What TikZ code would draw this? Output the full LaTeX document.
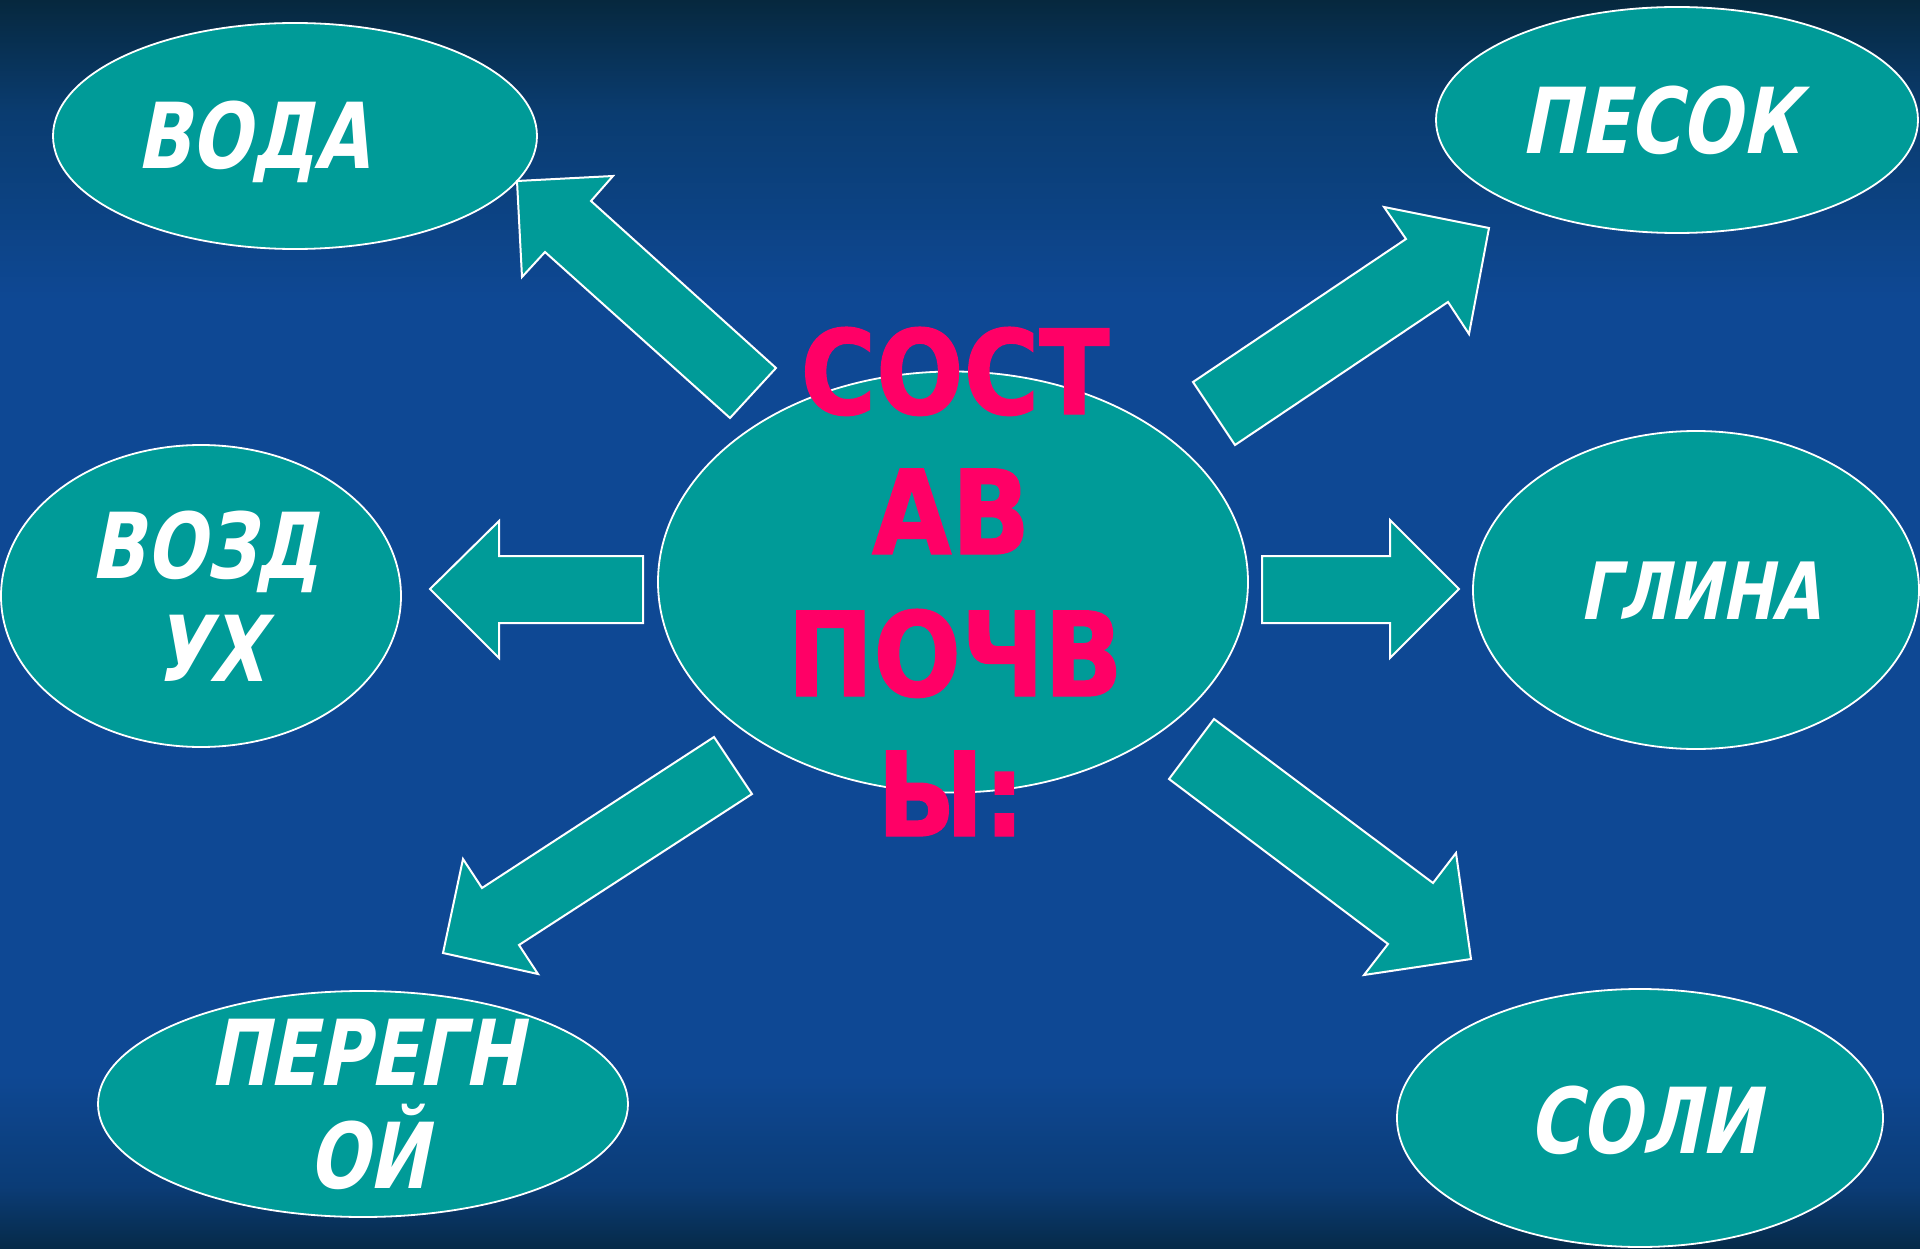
\documentclass[tikz,border=0pt]{standalone}
\usepackage{fontspec}
\usetikzlibrary{shapes.geometric}
\newfontfamily\labfont[FakeStretch=0.78,FakeSlant=0.2]{DejaVu Sans}
\newfontfamily\ctrfont[FakeStretch=0.88,FakeBold=1.2]{DejaVu Sans}
\definecolor{tealc}{RGB}{0,155,152}
\definecolor{pinkc}{RGB}{255,0,102}
\definecolor{bgtop}{RGB}{6,40,62}
\definecolor{bghigh}{RGB}{10,60,112}
\definecolor{bgmid}{RGB}{14,72,148}
\definecolor{bglow}{RGB}{11,60,118}
\definecolor{bgbot}{RGB}{6,42,72}
% visible part of a TikZ shading is 25bp..75bp
\pgfdeclareverticalshading{bgshade}{100bp}{color(0bp)=(bgbot); color(25bp)=(bgbot); color(27.5bp)=(bglow); color(32bp)=(bgmid); color(63bp)=(bgmid); color(70.5bp)=(bghigh); color(75bp)=(bgtop); color(100bp)=(bgtop)}
\begin{document}
\begin{tikzpicture}[x=1pt,y=-1pt,
  bub/.style={ellipse, draw=white, line width=1.8pt, fill=tealc, inner sep=0pt},
  barrow/.style={draw=white, line width=2pt, fill=tealc, line join=miter},
  lab/.style={text=white, font=\labfont\bfseries\fontsize{91}{100}\selectfont, anchor=base, inner sep=0pt},
  labs/.style={lab, font=\labfont\bfseries\fontsize{79}{90}\selectfont},
  ctr/.style={text=pinkc, font=\ctrfont\bfseries\fontsize{117}{130}\selectfont, anchor=base, inner sep=0pt}]
\useasboundingbox (0,0) rectangle (1920,1249);
\shade[shading=bgshade] (0,0) rectangle (1920,1249);

% ellipses
\node[bub, minimum width=484pt, minimum height=226pt] (voda) at (295,136) {};
\node[bub, minimum width=482pt, minimum height=226pt] (pesok) at (1677,120) {};
\node[bub, minimum width=400pt, minimum height=302pt] (vozduh) at (201,596) {};
\node[bub, minimum width=446pt, minimum height=318pt] (glina) at (1696,590) {};
\node[bub, minimum width=530pt, minimum height=226pt] (peregnoi) at (363,1104) {};
\node[bub, minimum width=486pt, minimum height=258pt] (soli) at (1640,1118) {};
\node[bub, minimum width=590pt, minimum height=421pt] (sostav) at (953,582) {};

% block arrows
\filldraw[barrow] (517,181) -- (613,176) -- (591,201) -- (776,368) -- (730,418) -- (545,252) -- (522,277) -- cycle;
\filldraw[barrow] (1193,382) -- (1406,239) -- (1384,207) -- (1489,228) -- (1469,334) -- (1448,302) -- (1235,445) -- cycle;
\filldraw[barrow] (430,589) -- (499,521) -- (499,556) -- (643,556) -- (643,623) -- (499,623) -- (499,658) -- cycle;
\filldraw[barrow] (1262,556) -- (1390,556) -- (1390,520) -- (1459,589) -- (1390,658) -- (1390,623) -- (1262,623) -- cycle;
\filldraw[barrow] (714,737) -- (752,794) -- (519,945) -- (538,974) -- (443,953) -- (463,859) -- (482,888) -- cycle;
\filldraw[barrow] (1214,719) -- (1169,779) -- (1388,944) -- (1364,975) -- (1471,959) -- (1456,853) -- (1433,883) -- cycle;

% labels
\node[lab] (tvoda) at (253,169) {ВОДА};
\node[lab] (tpesok) at (1660,154) {ПЕСОК};
\node[lab] (tvoz1) at (205,578) {ВОЗД};
\node[lab] (tvoz2) at (209,681) {УХ};
\node[labs] (tglina) at (1700,619) {ГЛИНА};
\node[lab] (tper1) at (366,1085) {ПЕРЕГН};
\node[lab] (tper2) at (368,1188) {ОЙ};
\node[lab] (tsoli) at (1644,1153) {СОЛИ};

% centre title
\node[ctr] (c1) at (955,414) {СОСТ};
\node[ctr] (c2) at (951,554) {АВ};
\node[ctr] (c3) at (955,696) {ПОЧВ};
\node[ctr] (c4) at (951,836) {Ы:};
\end{tikzpicture}
\end{document}
